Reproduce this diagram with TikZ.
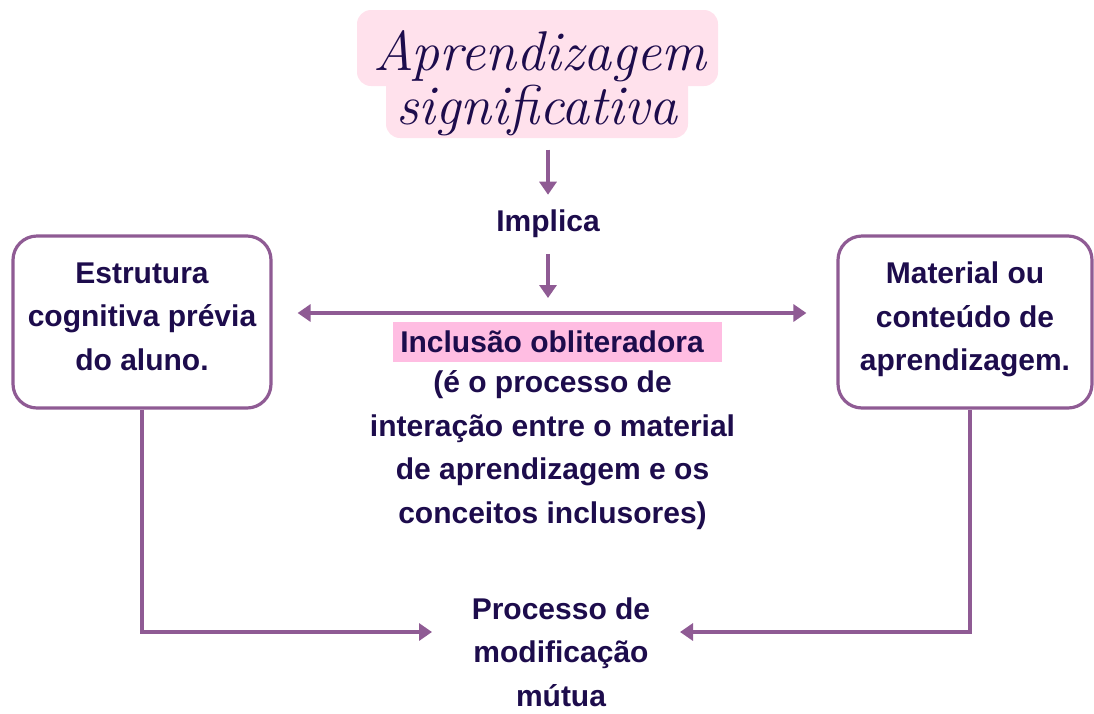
\documentclass[tikz,border=0pt]{standalone}
\usepackage{fontspec}
\newfontfamily\labelfont{Liberation Sans}
\usepackage{xcolor}
\usetikzlibrary{positioning,arrows.meta,calc}

\definecolor{linepurple}{HTML}{8F5B94}
\definecolor{inkblue}{HTML}{1D0C4C}
\definecolor{titlepink}{HTML}{FFE1EC}
\definecolor{markpink}{HTML}{FFBDE2}

\begin{document}
\begin{tikzpicture}[
    x=1pt, y=-1pt,
    txt/.style={font=\labelfont\bfseries\fontsize{30}{43.5}\selectfont, text=inkblue, align=center},
    card/.style={txt, draw=linepurple, line width=3.2pt, rounded corners=24pt,
      minimum width=258pt, minimum height=172pt, text depth=11pt},
    titletext/.style={font=\itshape\fontsize{56}{56}\selectfont, text=inkblue, inner sep=0pt},
    link/.style={draw=linepurple, line width=3.2pt, -{Triangle[length=13pt,width=17pt]}},
    duallink/.style={draw=linepurple, line width=3.2pt,
      {Triangle[length=13pt,width=17pt]}-{Triangle[length=13pt,width=17pt]}}
  ]
    \useasboundingbox (0,0) rectangle (1094,713);

    % title background
    \fill[titlepink, rounded corners=14pt] (357,10) rectangle (718,86);
    \fill[titlepink, rounded corners=14pt] (386,70) rectangle (688,138);
    \node[titletext, anchor=base] (title1) at (540,70) {Aprendizagem};
    \node[titletext, anchor=base] (title2) at (537,124) {significativa};

    \node[txt, anchor=base] (implica) at (548,231) {Implica};
    \coordinate (hub) at (548,313);

    \node[card] (prior) at (142,322) {Estrutura\\cognitiva prévia\\do aluno.};
    \node[card, minimum width=254pt] (material) at (965,322) {Material ou\\conteúdo de\\aprendizagem.};

    \node[txt, fill=markpink, inner xsep=7pt, inner ysep=0pt, minimum height=40pt] (inclusion)
      at (557.5,342) {Inclusão obliteradora\hspace*{11pt}};
    \node[txt, below=5pt of inclusion, xshift=-5pt] (desc)
      {(é o processo de\\interação entre o material\\de aprendizagem e os\\conceitos inclusores)};

    \node[txt, anchor=north] (process) at (561,594) {Processo de\\modificação\\mútua};
    \coordinate (inL) at (432,632);
    \coordinate (inR) at (680,632);

    \draw[link, shorten <=14pt, shorten >=11pt] (implica.north |- title2.south) -- (implica.north);
    \draw[link, shorten <=13pt, shorten >=15pt] (implica.south) -- (hub);
    \draw[duallink, shorten <=25pt, shorten >=30pt] (prior.east |- hub) -- (material.west |- hub);
    \draw[link] (prior.south) |- (inL);
    \draw[link] ([xshift=5pt]material.south) |- (inR);
  \end{tikzpicture}
\end{document}
